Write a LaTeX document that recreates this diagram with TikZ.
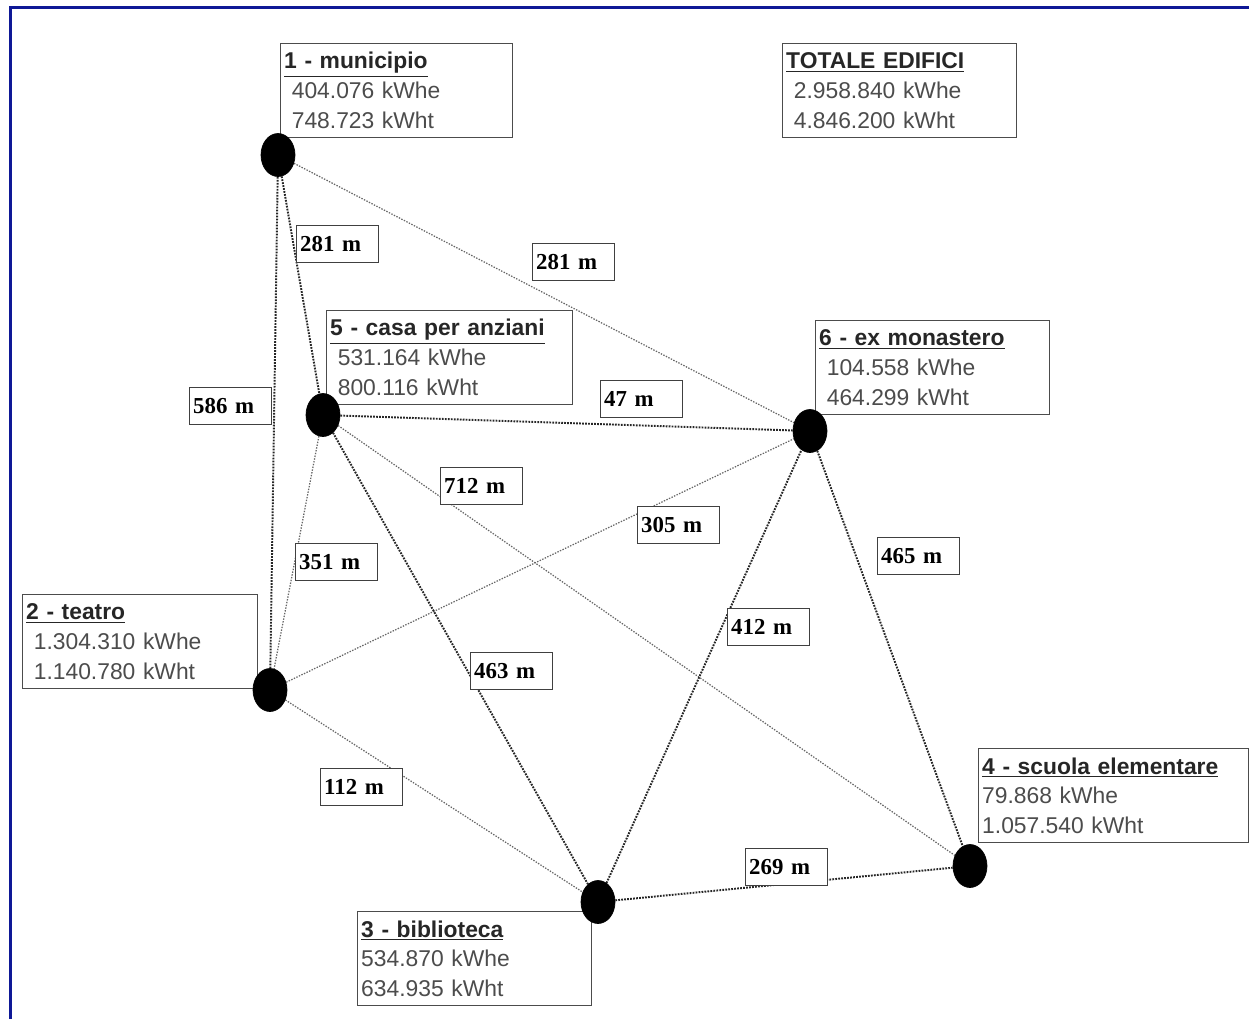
\documentclass[tikz,border=0pt]{standalone}
\usepackage{fontspec}
\setmainfont{Liberation Sans}
\newfontfamily\distfont{Liberation Serif}
\usetikzlibrary{shapes.geometric}
\pgfdeclarelayer{background}
\pgfsetlayers{background,main}
\definecolor{frameblue}{RGB}{14,24,150}
\newcommand{\btitle}[1]{\textcolor{black!85}{\textbf{\underline{#1}}}}
\tikzset{
  building/.style={
    draw=black,
    fill=black,
    ellipse,
    minimum width=6.8mm,
    minimum height=8.6mm,
    inner sep=0pt,
  },
  infobox/.style={
    draw=black!70,
    line width=0.8pt,
    fill=white,
    anchor=north west,
    align=left,
    text width=#1,
    minimum height=18.8mm,
    inner xsep=2pt,
    inner ysep=1pt,
    text=black!70,
    font=\fontsize{13}{17}\selectfont,
  },
  distbox/.style={
    draw=black!75,
    line width=0.8pt,
    fill=white,
    anchor=north west,
    align=left,
    text width=15mm,
    minimum height=7.4mm,
    inner xsep=2pt,
    inner ysep=0pt,
    font=\distfont\bfseries\fontsize{13}{15}\selectfont,
  },
  link/.style={draw=black!60, line width=0.7pt, dash pattern=on 0.8pt off 0.8pt},
  heavylink/.style={draw=black!85, line width=1.1pt, dash pattern=on 1pt off 0.7pt},
}

\begin{document}
\begin{tikzpicture}[x=0.02cm, y=-0.02cm]
  \useasboundingbox (0,0) rectangle (1249,1019);
  \begin{pgfonlayer}{background}
    \fill[white] (0,0) rectangle (1249,1019);
  \end{pgfonlayer}
  \draw[frameblue, line width=1.8pt] (10.5,1019) -- (10.5,7.5) -- (1249,7.5);

  % distanze
  \node[distbox] (d15) at (296,225) {281 m};
  \node[distbox] (d16) at (532,243) {281 m};
  \node[distbox] (d12) at (189,387) {586 m};
  \node[distbox] (d56) at (600,380) {47 m};
  \node[distbox] (d54) at (440,467) {712 m};
  \node[distbox] (d26) at (637,506) {305 m};
  \node[distbox] (d52) at (295,543) {351 m};
  \node[distbox] (d64) at (877,537) {465 m};
  \node[distbox] (d36) at (727,608) {412 m};
  \node[distbox] (d53) at (470,652) {463 m};
  \node[distbox] (d23) at (320,768) {112 m};
  \node[distbox] (d34) at (745,848) {269 m};

  % consumi
  \node[infobox=45mm] (i1) at (280,43)
    {\btitle{1 - municipio}\\\ 404.076 kWhe\\\ 748.723 kWht};
  \node[infobox=45.4mm] (itot) at (782,43)
    {\btitle{TOTALE EDIFICI}\\\ 2.958.840 kWhe\\\ 4.846.200 kWht};
  \node[infobox=47.8mm] (i5) at (326,310)
    {\btitle{5 - casa per anziani}\\\ 531.164 kWhe\\\ 800.116 kWht};
  \node[infobox=45.4mm] (i6) at (815,320)
    {\btitle{6 - ex monastero}\\\ 104.558 kWhe\\\ 464.299 kWht};
  \node[infobox=45.6mm] (i2) at (22,594)
    {\btitle{2 - teatro}\\\ 1.304.310 kWhe\\\ 1.140.780 kWht};
  \node[infobox=45.4mm] (i3) at (357,911)
    {\btitle{3 - biblioteca}\\534.870 kWhe\\634.935 kWht};
  \node[infobox=52.6mm] (i4) at (978,748)
    {\btitle{4 - scuola elementare}\\79.868 kWhe\\1.057.540 kWht};

  % edifici
  \foreach \n/\x/\y in {1/278/155, 2/270/690, 3/598/902, 4/970/866, 5/323/415, 6/810/431}
    \node[building] (b\n) at (\x,\y) {};

  % collegamenti
  \begin{pgfonlayer}{background}
    \foreach \a/\b/\s in {1/5/heavylink, 1/2/heavylink, 1/6/link, 5/6/heavylink, 5/4/link,
                          2/6/link, 5/2/link, 6/4/heavylink, 3/6/heavylink, 5/3/heavylink,
                          2/3/link, 3/4/heavylink}
      \draw[\s] (b\a) -- (b\b);
  \end{pgfonlayer}
\end{tikzpicture}
\end{document}
